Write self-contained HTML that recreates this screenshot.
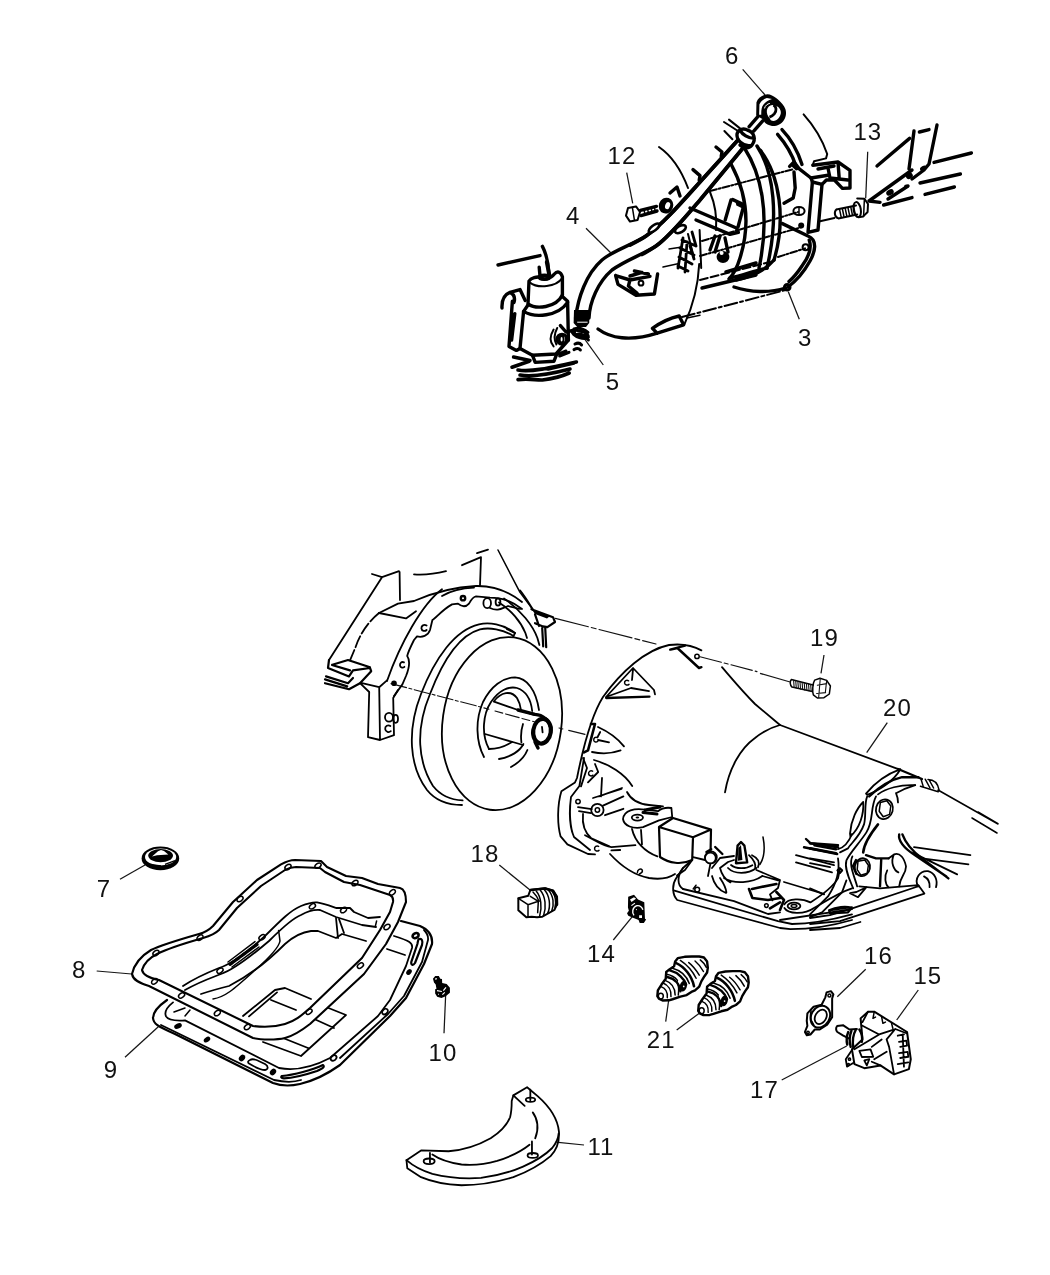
<!DOCTYPE html>
<html><head><meta charset="utf-8"><title>Transmission parts diagram</title>
<style>
html,body{margin:0;padding:0;background:#fff;}
body{width:1050px;height:1275px;overflow:hidden;font-family:"Liberation Sans",sans-serif;}
svg{display:block}
svg *{vector-effect:non-scaling-stroke}
.k{fill:none;stroke:#000;stroke-width:3.4;stroke-linecap:round;stroke-linejoin:round}
.m{fill:none;stroke:#000;stroke-width:2;stroke-linecap:round;stroke-linejoin:round}
.n{fill:none;stroke:#000;stroke-width:1.8;stroke-linecap:round;stroke-linejoin:round}
.t{fill:none;stroke:#000;stroke-width:1.5;stroke-linecap:round;stroke-linejoin:round}
.h{fill:none;stroke:#111;stroke-width:1.1;stroke-linecap:round;stroke-linejoin:round}
.l{fill:none;stroke:#151515;stroke-width:1.25;stroke-linecap:butt}
.f{fill:#000;stroke:none}
.w{fill:#fff}
text{font-family:"Liberation Sans",sans-serif;font-size:24px;fill:#111;}
</style></head><body>
<svg width="1050" height="1275" viewBox="0 0 1050 1275">
<defs><filter id="idf" x="0" y="0" width="1050" height="1275" filterUnits="userSpaceOnUse"><feOffset dx="0" dy="0"/></filter></defs>
<rect width="1050" height="1275" fill="#fff"/>
<!-- 00_labels.svg -->
<g id="labels" filter="url(#idf)" style="font-size:25px;letter-spacing:1.1px">
<text x="725.1" y="63.6">6</text>
<text x="607.5" y="163.6">12</text>
<text x="853.4" y="140.0">13</text>
<text x="566.0" y="223.6">4</text>
<text x="798.0" y="346.3">3</text>
<text x="605.8" y="389.6">5</text>
<text x="810.0" y="645.7">19</text>
<text x="883.1" y="716.0">20</text>
<text x="470.5" y="862.3">18</text>
<text x="96.7" y="896.7">7</text>
<text x="587.1" y="961.9">14</text>
<text x="864.0" y="964.3">16</text>
<text x="913.4" y="983.6">15</text>
<text x="72.0" y="977.6">8</text>
<text x="428.5" y="1060.7">10</text>
<text x="646.8" y="1048.3">21</text>
<text x="103.8" y="1077.6">9</text>
<text x="750.0" y="1097.6">17</text>
<text x="587.4" y="1155.3">11</text>
</g>
<g id="leaders" class="l">
<path d="M742.7 69.3L765 95"/>
<path d="M626.7 172.7L632.7 203.3"/>
<path d="M586 228.3L610.7 252.7"/>
<path d="M603.3 365L579.3 331.7"/>
<path d="M799.3 319.3L788.3 291.7"/>
<path d="M867.7 151.7L865.7 198.3"/>
<path d="M824 655L821 673.3"/>
<path d="M887.3 722.7L866.7 752.7"/>
<path d="M865.7 969.3L837.3 996.7"/>
<path d="M918.3 990L896.7 1020"/>
<path d="M499.3 865L530 890"/>
<path d="M120 879.3L145 865"/>
<path d="M96.7 971L131.7 974"/>
<path d="M125 1057.3L158.3 1026.7"/>
<path d="M613.3 940L632.3 916.7"/>
<path d="M444 1033.3L445.7 994"/>
<path d="M665.7 1021.7L668.7 1000"/>
<path d="M676.7 1030L700 1012.7"/>
<path d="M584 1145L558.3 1142.3"/>
<path d="M781.7 1080L846.7 1046"/>
</g>

<!-- 10_top_left.svg -->
<g transform="translate(490,180) scale(0.2)">
<!-- tube 4 -->
<path class="k" d="M428 690C440 590 480 470 560 400C620 350 700 330 780 280C860 225 960 110 1050 10L1240-200"/>
<path class="k" d="M495 690C498 610 540 510 610 450C680 400 760 375 830 330C900 280 980 180 1050 100L1265-160"/>
<path class="k" style="stroke-width:3.8" d="M700 325C740 305 760 295 780 280C860 225 960 110 1050 10L1240-200M760 372C790 355 810 345 830 330C900 280 980 180 1050 100L1265-160"/>
<path class="f" d="M420 650L498 650L496 715L480 735L436 735L418 715Z"/>
<path d="M436 711L488 711" stroke="#fff" stroke-width="1" fill="none"/>
<!-- lugs on tube -->
<ellipse class="k" style="fill:#fff;stroke-width:2.6" cx="820" cy="240" rx="32" ry="13" transform="rotate(-38 820 240)"/>
<ellipse class="k" style="fill:#fff;stroke-width:2.6" cx="952" cy="246" rx="30" ry="16" transform="rotate(-30 952 246)"/>
<!-- reservoir -->
<path class="k" d="M40 425L250 378"/>
<path class="k" d="M262 332C282 370 292 410 294 470"/>
<path class="k" style="stroke-width:4" d="M284 410L296 472"/>
<ellipse class="k" cx="272" cy="486" rx="26" ry="10"/>
<path class="k" d="M246 436L250 480"/>
<path class="k" d="M250 488C270 500 300 496 322 470C335 455 352 455 362 484L362 575"/>
<path class="k" d="M252 486C235 482 205 488 195 505L190 620C230 648 330 640 362 575"/>
<path class="m" d="M198 512C240 545 330 535 360 492"/>
<path class="k" d="M362 582L388 606L392 800"/>
<path class="k" d="M190 625L168 657C225 692 340 682 388 612"/>
<path class="k" d="M168 657L150 842L212 876L330 870L392 800"/>
<path class="k" d="M212 876L226 912L320 906L334 870"/>
<!-- bracket left -->
<path class="k" d="M60 640C58 600 75 572 100 562L150 548L176 602M100 562C122 572 126 590 120 612M112 606L95 832L132 852L150 842M124 668L108 800"/>
<!-- wavy base lines -->
<path class="k" style="stroke-width:3.6" d="M118 885L200 902M110 936L196 906M140 950C200 962 300 940 432 910M150 975C220 987 320 966 400 945M140 998C200 990 230 1002 262 1000C300 996 350 986 396 965M290 945L420 915"/>
<!-- fitting 5 -->
<circle class="k" cx="360" cy="796" r="24"/>
<ellipse class="m" cx="358" cy="796" rx="10" ry="16"/>
<path class="m" d="M318 748C296 785 300 812 318 832M336 740C318 775 320 800 332 822"/>
<path class="k" d="M352 728L380 760L432 748"/>
<ellipse class="f" cx="452" cy="772" rx="50" ry="24" transform="rotate(18 452 772)"/>
<path d="M430 762L470 772" stroke="#fff" stroke-width="1.2" fill="none"/>
<path class="k" style="stroke-width:3" d="M420 745C445 735 470 745 490 762M432 772C455 765 470 775 492 800M425 820C440 812 450 815 458 825M420 848C435 840 445 842 452 850M345 870L380 855M348 880L395 862"/>
<!-- bolt 12 -->
<path class="m" d="M690 140L730 132L750 160L738 200L700 208L680 178Z"/>
<path class="t" d="M712 138L722 200"/>
<path class="k" d="M752 152L832 132M755 178L835 155"/>
<path class="t" d="M770 150L775 172M788 146L793 168M806 142L811 163M822 138L827 158"/>
<ellipse class="f" cx="880" cy="128" rx="36" ry="40" transform="rotate(20 880 128)"/>
<ellipse cx="888" cy="128" rx="12" ry="18" fill="#fff" transform="rotate(20 888 128)"/>
<!-- "7" clip -->
<path class="k" d="M900 65L935 35L950 80"/>
<!-- small bracket -->
<path class="k" d="M628 478L640 522L730 576L822 570L838 470M628 478L700 500L692 530L736 566M700 500L800 482M722 455L792 470M700 480L760 462"/>
<circle class="m" cx="755" cy="516" r="12"/>
<!-- cover bottom lip -->
<path class="k" d="M540 745C600 790 700 810 836 766L968 724L946 680C900 690 850 715 812 742L836 766"/>
<path class="m" d="M1046 420C1040 540 1010 640 972 722"/>
<path class="t" d="M985 690L1050 676"/>
<!-- wiring hatch -->
<path class="k" style="stroke-width:2.8" d="M960 300L1030 330M950 340L1020 375M945 385L1010 420M940 430L990 455M965 290L940 440M1010 260L1030 330M985 310L975 460M1000 330L1020 395"/>
<path class="t" d="M895 345L960 335M865 435L945 418"/>
</g>

<!-- 11_top_mid.svg -->
<g transform="translate(690,60) scale(0.2)">
<!-- dipstick ring 6 -->
<path class="k" d="M235 370C240 345 270 338 290 352C320 362 332 395 310 425C296 445 266 442 250 425M235 370C232 400 262 432 300 428M250 352C262 372 290 392 322 392"/>
<path class="m" d="M170 310L240 355M195 298L250 342M172 355L212 396"/>
<path class="k" d="M15 548L50 578L46 602M130 435L160 460L156 482"/>
<!-- bell housing arcs -->
<path class="m" d="M-155 435C-90 480 -40 560 -10 640"/>
<path class="k" d="M205 520C270 640 310 800 250 990C235 1040 215 1075 195 1095"/>
<path class="m" d="M100 660C125 720 135 790 130 850"/>
<path class="k" d="M272 440C350 560 405 760 345 1040"/>
<path class="k" d="M335 430C420 560 445 780 385 1040"/>
<path class="k" d="M352 452C450 580 480 800 420 1000"/>
<path class="k" d="M438 372C480 420 510 470 530 530M460 348C510 400 540 460 560 522"/>
<path class="m" d="M568 272C620 330 662 400 686 470L680 492L620 506L614 526"/>
<!-- bracket right -->
<path class="k" d="M498 532L520 510L548 546L605 590L690 576M520 560L526 640L516 690L470 716"/>
<path class="k" d="M614 526L740 510L800 552L800 640L762 642L722 600L682 600L660 622L612 610L605 590"/>
<path class="k" d="M612 610L590 862L640 850L660 622M690 540L700 590M740 512L746 592M640 545L720 530M700 590L790 600"/>
<path class="f" d="M500 525L525 508L550 548L530 552Z"/>
<ellipse class="m" cx="545" cy="755" rx="28" ry="20"/>
<path class="t" d="M545 737L545 773"/>
<circle class="f" cx="556" cy="828" r="15"/>
<!-- lower cover 3 -->
<path class="k" d="M462 818L590 880C640 900 625 960 600 1005C575 1050 530 1105 490 1135"/>
<path class="k" d="M596 900C610 940 590 990 560 1030C540 1060 515 1090 495 1108"/>
<circle class="m" cx="578" cy="936" r="15"/>
<circle cx="486" cy="1136" r="14" fill="none" stroke="#000" stroke-width="3"/>
<path class="k" d="M220 1135C300 1162 400 1166 478 1140"/>
<path class="k" d="M200 1090C260 1080 330 1050 385 1040M230 1100C300 1085 370 1060 420 1000M180 1060L330 1015"/>
<!-- interior arm -->
<path class="k" d="M0 740L232 840L242 862L200 872L30 800"/>
<path class="k" d="M205 700L176 800M214 698L270 724L240 835M232 706L262 720"/>
<path class="f" d="M225 700L275 722L268 745L232 728Z"/>
<ellipse class="f" cx="165" cy="985" rx="32" ry="30"/>
<circle cx="158" cy="965" r="10" fill="#fff"/>
<path class="k" d="M150 880L125 960M175 890L190 960M125 880L100 950"/>
<path class="m" d="M48 850L56 1040"/>
<path class="m" d="M-10 870L20 990"/>
<!-- center lines -->
<path class="m" stroke-dasharray="7 2 2 2" d="M100 655L520 545"/>
<path class="m" stroke-dasharray="7 2 2 2" d="M60 905L540 760"/>
<path class="m" stroke-dasharray="7 2 2 2" d="M50 980L560 835"/>
<path class="m" stroke-dasharray="7 2 2 2" d="M440 985L575 942"/>
<path class="m" stroke-dasharray="8 3" d="M50 1100L400 1010"/>
<path class="k" d="M60 1140L330 1075"/>
<path class="m" stroke-dasharray="13 3 3 3" d="M-40 1285L480 1150"/>
</g>

<!-- 12_top_right.svg -->
<g transform="translate(820,100) scale(0.2)">
<!-- bolt 13 -->
<path class="m" d="M82 547L180 527M92 592L186 572M82 547C68 560 74 586 92 592"/>
<path class="t" d="M98 548L106 586M112 545L120 583M126 542L134 580M140 539L148 577M154 536L162 574M168 533L176 571"/>
<ellipse class="m" cx="186" cy="548" rx="18" ry="38" transform="rotate(-10 186 548)"/>
<path class="m" d="M186 492L222 494L240 520L238 560L216 582L192 586"/>
<path class="t" d="M222 494L218 582"/>
<path class="m" d="M0 606L72 590"/>
<!-- frame lines -->
<path class="k" d="M285 330L448 192M245 505L460 350M245 505L300 512"/>
<path class="k" d="M470 155L445 345M585 125L545 320L520 350L460 395M497 160L545 148"/>
<path class="k" d="M340 495L440 430M318 525L460 488M500 415L702 370M525 472L672 435M570 312L757 265"/>
<ellipse class="f" cx="350" cy="462" rx="20" ry="14" transform="rotate(-30 350 462)"/>
<ellipse class="f" cx="447" cy="380" rx="18" ry="14" transform="rotate(-30 447 380)"/>
<ellipse class="f" cx="517" cy="342" rx="18" ry="12" transform="rotate(-30 517 342)"/>
<ellipse class="f" cx="432" cy="432" rx="12" ry="9"/>
</g>

<!-- 13_ring.svg -->
<!-- dipstick ring 6 -->
<g transform="translate(740,85) scale(0.0571429)">
<path class="f" d="M283 535L288 300C315 225 400 168 480 160C585 165 700 270 770 370C822 450 812 545 770 612C722 690 640 722 560 716C500 706 455 680 430 652L400 600Z"/>
<path fill="#fff" d="M335 520L340 335C370 280 420 240 470 226L560 246C500 262 440 300 405 350C380 390 370 430 372 520Z"/>
<path fill="#fff" d="M470 440C480 390 520 355 565 350L640 366C690 390 720 440 715 490C705 560 650 625 585 630C550 630 525 605 520 580C480 540 465 490 470 440Z"/>
<path d="M585 350C640 380 645 450 600 505C570 540 540 555 515 562" fill="none" stroke="#000" stroke-width="2.8"/>
<path d="M428 410C440 360 480 330 522 322" fill="none" stroke="#fff" stroke-width="1"/>
<path class="k" d="M312 552L160 728M398 628L240 806"/>
</g>

<!-- 20_converter.svg -->
<g transform="translate(395,590) scale(0.2)">
<!-- torque converter -->
<ellipse class="n" cx="535" cy="668" rx="297" ry="435" transform="rotate(8 535 668)" fill="#fff" style="fill:#fff"/>
<path class="n" d="M600 215C540 170 470 160 420 172C300 200 200 340 130 520C60 700 70 880 160 1000C200 1050 260 1075 335 1075"/>
<path class="n" d="M592 230C540 196 470 186 425 197C320 226 240 350 175 520C100 700 115 860 190 980C230 1030 280 1050 338 1052"/>
<path class="n" d="M560 196L600 215L592 232"/>
<!-- hub -->
<path class="n" d="M445 835C405 760 400 650 440 560C480 480 540 437 600 437C660 440 705 500 720 600"/>
<path class="n" d="M470 795C430 720 440 620 480 560C520 500 570 480 610 490C655 505 680 550 686 605"/>
<path class="n" d="M495 556C530 510 580 500 610 540C622 560 628 580 630 600"/>
<path class="n" d="M470 795C510 795 545 785 585 760M520 845C580 835 625 805 642 770M580 885C625 860 650 830 662 800"/>
<path class="n" d="M495 558L615 600L700 626M450 720L640 775M640 670C630 700 628 730 632 762"/>
<path class="k" d="M615 600L700 622C740 625 770 650 780 690"/>
<ellipse cx="735" cy="706" rx="44" ry="62" fill="none" stroke="#000" stroke-width="4.2" transform="rotate(8 735 706)"/>
<path class="n" d="M735 685L738 712"/>
<path class="k" d="M700 760L715 790"/>
<!-- centerline -->
<path class="h" stroke-dasharray="16 2.5 3 2.5" d="M-20 468L470 596"/>
<path class="h" stroke-dasharray="8 3 14 3" d="M500 605L700 660"/>
<path class="h" stroke-dasharray="4 6 18 4" d="M820 690L950 722"/>
<!-- housing top right -->
<path class="n" d="M520 62C580 100 630 160 652 215L660 240M545 42C630 100 690 180 712 240L722 275M625 2C655 40 675 75 690 98"/>
<path class="n" style="stroke-width:2.2" d="M682 96L790 136L800 160L762 186L740 182L700 166M700 122L720 180M736 190L741 282M751 186L756 286"/>
<path class="f" d="M684 96L775 130L760 142L700 120Z"/>
</g>

<!-- 21_bellhousing.svg -->
<g transform="translate(310,540) scale(0.2)">
<path class="n" d="M310 170L360 186L445 156M360 186L95 600M448 160L450 300M520 172C580 176 640 166 680 156M760 126L855 86M835 66L890 48M855 86L850 226"/>
<path class="t" d="M940 50L1050 262L1117 352"/>
<path class="n" d="M345 365L440 318L520 305C600 270 700 236 830 230C920 228 1000 262 1060 310"/>
<path class="n" d="M345 365L480 392L530 356"/>
<path class="n" stroke-dasharray="12 3" d="M345 365C290 410 250 470 228 535L200 602"/>
<path class="n" d="M660 246C560 320 450 520 385 705"/>
<path class="n" d="M820 238C760 240 700 256 660 280"/>
<path class="n" d="M1060 345C1000 300 960 290 900 288L830 282C815 284 805 300 795 318C780 335 760 335 740 318L710 322C660 350 630 390 612 400L600 450C590 480 560 488 535 482L520 500C500 540 490 560 486 580C500 600 496 640 480 680L462 722L420 780"/>
<circle cx="765" cy="291" r="11" fill="none" stroke="#000" stroke-width="2.4"/>
<path class="n" d="M583 428C570 420 556 428 557 442C558 455 575 458 583 450M470 612C458 606 448 616 450 628C452 640 466 640 472 634"/>
<circle class="f" cx="420" cy="716" r="14"/>
<ellipse class="n" cx="886" cy="316" rx="19" ry="25"/>
<ellipse class="n" cx="940" cy="310" rx="12" ry="18"/>
<path class="n" d="M900 340C940 360 960 340 990 330L1050 345"/>
<!-- starter tab -->
<path class="n" style="stroke-width:2.2" d="M95 600L90 640L195 682L215 652L300 640L306 656L250 716L195 746L75 716M110 625L200 652M112 624L190 600L300 636M80 682L190 716L215 690M75 697L186 732"/>
<path class="n" d="M250 716L296 760L290 986L350 1000L420 976L416 790L440 750M346 736L350 1000M260 716L346 736L385 702"/>
<ellipse class="n" cx="395" cy="886" rx="20" ry="22"/>
<ellipse class="n" cx="428" cy="894" rx="12" ry="20"/>
<path class="n" d="M402 930C390 922 374 930 376 946C378 960 395 964 404 956"/>
</g>

<!-- 30_case_left.svg -->
<g transform="translate(545,620) scale(0.2)">
<path class="h" stroke-dasharray="34 3 5 3" d="M52 -8L555 120"/>
<path class="h" stroke-dasharray="22 3 4 3" d="M775 184L1060 258"/>
<!-- front flange outline -->
<path class="n" d="M782 152C740 128 680 118 620 125C500 150 380 260 290 385C230 480 190 640 160 790L150 812L82 856C62 920 60 1020 78 1082L112 1122L215 1170L250 1172"/>
<path class="n" d="M195 690L172 830L130 885C120 960 125 1040 145 1085L225 1150"/>
<path class="n" style="stroke-width:2.4" d="M628 148L662 140L770 240L782 236M626 148L700 128"/>
<circle class="t" cx="760" cy="182" r="11"/>
<!-- rib 1 -->
<path class="n" d="M305 385L440 240L545 350L550 372M305 385L430 340L520 356M440 246L435 300"/>
<path class="n" style="stroke-width:2.4" d="M306 390L522 383"/>
<path class="t" d="M418 304C408 298 396 304 398 316C400 326 412 328 420 322"/>
<!-- rib 2 -->
<path class="n" style="stroke-width:2.6" d="M230 520L250 520L215 652L195 662"/>
<path class="n" d="M265 535C320 560 370 600 395 632M235 660C290 672 340 666 378 652M265 600L320 612M276 560L263 585"/>
<path class="t" d="M262 588C252 582 242 590 244 602C246 612 258 612 264 606"/>
<!-- lower ribs -->
<path class="n" d="M245 700C320 720 400 770 436 830M190 690L210 740L180 832M250 720L266 760L215 812"/>
<path class="t" d="M238 756C228 750 216 758 218 770C220 780 232 782 240 776"/>
<path class="n" d="M285 790L280 882M240 890L382 845M270 882L385 840"/>
<circle class="n" cx="262" cy="950" r="31"/>
<circle class="t" cx="262" cy="950" r="11"/>
<path class="n" d="M290 928L392 882M300 976L392 944M165 936L234 946M170 956L230 966"/>
<circle class="t" cx="165" cy="908" r="11"/>
<path class="n" d="M190 970C185 1020 195 1060 232 1092L322 1132M200 1076C250 1100 290 1130 332 1136L452 1126M332 1152L376 1150"/>
<path class="t" d="M268 1132C258 1126 246 1134 248 1146C250 1156 262 1158 270 1152"/>
<path class="n" d="M410 860C430 900 470 920 520 925L590 932"/>
<!-- lug -->
<path class="n" d="M390 995C395 950 450 940 500 948L565 956C585 940 600 935 632 940L636 985L570 1002L490 1036C440 1046 395 1030 390 995Z"/>
<ellipse class="n" cx="462" cy="988" rx="28" ry="15"/>
<ellipse class="f" cx="462" cy="988" rx="9" ry="5"/>
<path class="n" style="stroke-width:3" d="M490 962L560 970M500 950L575 935"/>
<path class="n" d="M435 1045C450 1110 500 1160 562 1182M480 1050L485 1122"/>
<!-- box -->
<path class="n" style="stroke-width:2.2" d="M570 1035L575 1185C620 1216 680 1226 736 1200L740 1086L570 1035L640 990L830 1048L740 1086M830 1048L828 1150"/>
<path class="n" d="M736 1200L700 1250L660 1278M740 1186L800 1200"/>
<circle class="n" cx="830" cy="1186" r="29" style="fill:#fff"/>
<!-- body lines -->
<path class="n" d="M1175 525C1120 540 1080 565 1050 590C980 640 920 740 900 862"/>
<path class="n" d="M885 236C940 300 990 360 1050 420L1175 525L1770 747"/>
<path class="n" d="M325 1170C380 1230 440 1275 520 1290C570 1298 620 1290 650 1270"/>
<path class="t" d="M462 1262C462 1248 478 1240 486 1250C490 1258 480 1266 472 1270"/>
</g>

<!-- 31_case_mid.svg -->
<g transform="translate(640,740) scale(0.2)">
<path class="n" d="M260 600L215 640L180 692C160 722 160 772 186 800L700 940L752 946C850 946 950 932 1060 900"/>
<path class="n" d="M168 752L690 906L760 920C850 920 950 902 1060 872"/>
<path class="n" d="M215 745L470 806L640 870L700 862"/>
<path class="n" d="M215 640C185 680 185 725 215 745"/>
<circle class="n" cx="352" cy="590" r="27" style="fill:#fff"/>
<path class="n" style="stroke-width:2.4" d="M376 535L412 570M332 560L356 546"/>
<path class="n" d="M352 618L340 680M360 640L400 590L470 580M360 680C370 720 390 750 430 765M400 690C420 720 430 740 432 762"/>
<circle class="t" cx="286" cy="748" r="12"/>
<path class="t" d="M266 745L280 726"/>
<!-- sensor -->
<path class="n" style="stroke-width:2.4" d="M488 528L505 510L522 528L536 612L480 616Z"/>
<path class="f" d="M492 540L505 525L512 600L490 604Z"/>
<path class="n" d="M440 640C470 672 540 672 582 640M455 625C480 646 530 646 562 626M420 690C470 722 560 716 612 680M400 640L440 610L470 600M400 640C410 680 430 700 452 712"/>
<path class="n" d="M560 576C590 590 600 612 590 636M545 576C570 600 580 620 576 640"/>
<path class="t" d="M615 485C626 540 620 590 600 622"/>
<path class="n" d="M582 650L700 700L690 740L650 772L662 802M720 710L920 770M612 680L690 702"/>
<path class="n" style="stroke-width:2.6" d="M545 745L562 790L640 800L700 790M560 745L600 736L682 720M682 760L720 800L700 850M650 842L700 812"/>
<circle class="t" cx="632" cy="828" r="9"/>
<ellipse class="n" cx="770" cy="830" rx="32" ry="17"/>
<ellipse class="t" cx="770" cy="830" rx="14" ry="7"/>
<path class="n" d="M722 822C740 790 810 790 852 812C900 782 960 742 990 692L1000 645"/>
<path class="n" d="M722 840C740 870 820 875 870 840C930 805 990 765 1060 742"/>
<!-- ribs right -->
<path class="n" style="stroke-width:2.4" d="M830 495L852 516L990 526M820 536L986 570M872 526L980 546"/>
<path class="n" d="M780 576L970 626M780 612L960 662"/>
<path class="t" d="M1000 640L1012 652L1000 666L988 652Z"/>
<path class="n" d="M1060 470C1040 520 1012 540 990 546M700 900L1060 846M950 852L1060 836"/>
</g>

<!-- 32_case_rear.svg -->
<g transform="translate(810,700) scale(0.2)">
<!-- ridge to rear -->
<path class="n" style="stroke-width:2.2" d="M440 345L560 395"/>
<path class="t" d="M552 431L641 459M640 450L940 620M810 590L935 665M840 560L940 618"/>
<path class="t" d="M555 395L566 432M576 396L600 440M596 400L618 440M590 398C620 398 640 420 646 452"/>
<!-- rear flange leaves -->
<path class="n" d="M280 468C320 420 380 372 452 346C420 402 350 452 286 474Z"/>
<path class="n" style="stroke-width:2.4" d="M296 482C340 440 400 400 460 386L542 386"/>
<path class="n" d="M340 472C380 442 450 422 526 426"/>
<path class="n" d="M200 668C205 600 235 540 266 510C270 570 250 640 202 682Z"/>
<path class="n" d="M286 482C270 520 282 580 270 622C250 682 200 722 190 742L150 762"/>
<path class="n" d="M330 482C300 540 320 600 282 662C250 712 200 762 182 802C170 842 200 902 216 942"/>
<path class="n" style="stroke-width:2.6" d="M340 622C300 672 270 722 266 762"/>
<path class="n" d="M212 782C192 822 222 882 236 932"/>
<!-- bolts -->
<ellipse class="n" cx="372" cy="546" rx="42" ry="50" transform="rotate(15 372 546)"/>
<path class="t" d="M352 512L384 504L404 530L398 572L366 584L346 556Z"/>
<path class="n" d="M430 466C436 480 440 500 440 512M430 466L470 446L526 426"/>
<ellipse class="n" cx="262" cy="836" rx="38" ry="45" transform="rotate(10 262 836)"/>
<path class="t" d="M240 806L274 800L292 826L286 866L254 876L236 848Z"/>
<path class="n" style="stroke-width:2.4" d="M230 800L215 830L232 870"/>
<!-- body -->
<path class="n" style="stroke-width:2.4" d="M280 776L330 792L392 792M356 800L350 932"/>
<path class="n" d="M392 792L420 772C450 760 472 792 480 832C480 872 450 882 446 932M420 772C400 812 420 852 442 862M386 852C370 882 376 922 392 936"/>
<path class="n" style="stroke-width:2.4" d="M446 672C440 702 470 742 520 772L682 882M462 672C480 722 520 762 560 792L692 892"/>
<path class="n" d="M530 772L736 872M520 736L802 776M560 792L792 822"/>
<path class="n" d="M540 932C520 892 550 852 590 856C626 866 640 902 630 936M570 882C590 892 600 912 598 936"/>
<!-- crossmember -->
<path class="n" d="M246 932L350 942L542 926M0 1090L100 1076L200 1046L546 930M0 1120L150 1106L572 968L542 926M0 1150L150 1140L252 1110"/>
<path class="n" style="stroke-width:2.4" d="M96 1052C130 1036 180 1030 206 1040L190 1062L100 1066Z"/>
<path class="n" d="M200 966L232 960L282 936L240 986Z"/>
<!-- left ribs -->
<path class="n" style="stroke-width:2.6" d="M0 716L140 736M0 742L130 766"/>
<path class="n" d="M0 792L120 812M0 816L100 836"/>
<path class="t" d="M148 840L160 852L148 866L136 852Z"/>
<path class="n" d="M140 792C150 852 130 922 90 982L0 1072M182 902L160 962L60 1062L0 1086M0 942L70 972"/>
</g>
<!-- bolt 19 -->
<g transform="translate(760,650) scale(0.133333)">
<path class="t" d="M235 222L398 262M240 278L392 312M235 222C222 235 225 265 240 278"/>
<path class="h" d="M252 228L256 280M268 232L272 284M284 236L288 288M300 240L304 292M316 244L320 296M332 248L336 300M348 252L352 304M364 256L368 306M380 260L384 310"/>
<path class="t" d="M410 226L450 212L500 228L528 270L520 330L480 358L430 360L400 336C392 310 394 250 410 226Z"/>
<path class="h" d="M452 214L440 356M430 264L500 252M425 326L492 320M500 228L490 320"/>
<path class="l" d="M0 175L226 240"/>
</g>

<!-- 40_pan.svg -->
<g transform="translate(125,850) scale(0.2)">
<!-- PAN 9 (drawn first, gasket overlays) -->
<path class="n" style="stroke-width:2.2" d="M210 750C160 785 140 810 140 840C142 868 160 880 250 920L740 1165C780 1180 830 1180 875 1170C960 1150 1040 1100 1075 1075L1325 830L1405 740L1495 570L1535 470C1540 420 1510 395 1475 380L1380 355"/>
<path class="n" d="M240 762C205 790 196 812 205 832C215 850 240 856 300 852L770 1090C850 1105 930 1090 1025 1040L1265 830L1325 750L1405 580L1435 490C1440 465 1425 455 1345 430"/>
<path class="n" d="M180 875L745 1150C800 1162 850 1160 880 1150M1075 1040L1315 820L1395 730L1485 560L1515 450C1518 425 1505 410 1495 400"/>
<path class="t" d="M245 810L300 790M300 830L325 800"/>
<!-- pan inner rim far side -->
<path class="n" d="M290 680C350 640 420 610 470 590C520 575 600 520 700 430C780 350 830 300 880 280C910 268 940 260 960 262C1000 268 1040 285 1055 290L1125 290L1145 310L1215 340L1275 335"/>
<path class="n" d="M300 700C380 655 430 640 480 620C540 600 620 540 720 455C790 385 840 340 880 325C915 305 950 298 975 300L1055 335L1185 375L1255 385"/>
<path class="n" d="M380 720C440 700 480 690 520 680C580 650 680 590 800 470C850 425 890 410 930 405L965 405L1055 440L1085 420L1205 455"/>
<path class="t" d="M440 745C500 735 540 700 640 610C720 540 770 490 775 455L768 402"/>
<path class="n" d="M1055 340L1065 440M1070 345L1095 415"/>
<path class="t" d="M1258 355L1252 380"/>
<!-- floor -->
<path class="n" d="M590 830L750 700L800 690L930 745M620 832L760 712M730 750L855 800M690 960L880 1030L1045 880L1105 825L1005 785M790 940L915 990M935 840L1045 890M1310 495L1400 525"/>
<!-- pan holes -->
<ellipse class="f" cx="265" cy="880" rx="20" ry="13" transform="rotate(-25 265 880)"/>
<ellipse class="f" cx="410" cy="948" rx="18" ry="12" transform="rotate(-35 410 948)"/>
<ellipse class="f" cx="585" cy="1040" rx="18" ry="14" transform="rotate(-50 585 1040)"/>
<ellipse class="f" cx="740" cy="1110" rx="18" ry="14" transform="rotate(-50 740 1110)"/>
<path class="n" d="M625 1050C640 1040 660 1050 700 1070C720 1082 715 1098 700 1100C680 1100 640 1080 620 1068C612 1060 615 1054 625 1050Z"/>
<path class="n" style="stroke-width:2.2" d="M785 1130C840 1125 940 1100 990 1075C1000 1085 990 1092 960 1105C900 1125 840 1140 795 1142C780 1140 778 1134 785 1130Z"/>
<ellipse class="n" cx="1043" cy="1040" rx="16" ry="12" transform="rotate(-40 1043 1040)"/>
<ellipse class="n" cx="1300" cy="808" rx="16" ry="12" transform="rotate(-40 1300 808)"/>
<ellipse class="f" cx="1420" cy="610" rx="16" ry="12" transform="rotate(-50 1420 610)"/>
<ellipse class="n" style="stroke-width:2.6" cx="1453" cy="428" rx="16" ry="12" transform="rotate(-30 1453 428)"/>
<path class="n" style="stroke-width:2.2" d="M1470 445C1485 440 1490 455 1485 475L1450 565C1440 580 1428 575 1432 558L1462 470C1465 455 1465 448 1470 445Z"/>
<!-- GASKET 8 -->
<path class="n" style="stroke-width:2.1;fill:#fff;fill-rule:evenodd" d="M35 620C45 575 80 530 130 500C180 475 300 440 370 420C400 412 420 400 440 380L540 260L660 150L780 72C810 55 830 50 850 50L980 55L1010 85L1105 130L1185 140L1265 170L1375 190C1395 195 1405 220 1405 260L1365 360L1305 470L1195 620L925 870C880 905 840 930 800 940C760 950 680 950 640 940L120 680C70 665 40 650 35 620Z
M85 600C95 570 120 540 160 520C210 495 320 460 390 440C430 428 450 420 470 400L560 290L680 180L800 100C820 90 840 85 855 85L975 90L1000 110L1095 160L1175 175L1265 205L1325 225C1338 232 1342 245 1340 260L1325 310L1275 400L1185 540L925 790C880 830 850 855 800 870C760 882 700 888 640 880L170 650C120 640 90 625 85 600Z"/>
<ellipse class="t" cx="155" cy="515" rx="17" ry="11" transform="rotate(-35 155 515)"/>
<ellipse class="t" cx="375" cy="438" rx="17" ry="11" transform="rotate(-35 375 438)"/>
<ellipse class="t" cx="575" cy="245" rx="17" ry="11" transform="rotate(-35 575 245)"/>
<ellipse class="t" cx="815" cy="85" rx="17" ry="11" transform="rotate(-35 815 85)"/>
<ellipse class="t" cx="965" cy="78" rx="17" ry="11" transform="rotate(-35 965 78)"/>
<ellipse class="t" cx="1150" cy="165" rx="17" ry="11" transform="rotate(-35 1150 165)"/>
<ellipse class="t" cx="1337" cy="212" rx="17" ry="11" transform="rotate(-35 1337 212)"/>
<ellipse class="t" cx="1310" cy="385" rx="17" ry="11" transform="rotate(-35 1310 385)"/>
<ellipse class="t" cx="1177" cy="578" rx="17" ry="11" transform="rotate(-35 1177 578)"/>
<ellipse class="t" cx="920" cy="808" rx="17" ry="11" transform="rotate(-35 920 808)"/>
<ellipse class="t" cx="612" cy="885" rx="17" ry="11" transform="rotate(-35 612 885)"/>
<ellipse class="t" cx="462" cy="815" rx="17" ry="11" transform="rotate(-35 462 815)"/>
<ellipse class="t" cx="283" cy="727" rx="17" ry="11" transform="rotate(-35 283 727)"/>
<ellipse class="t" cx="148" cy="657" rx="17" ry="11" transform="rotate(-35 148 657)"/>
<ellipse class="t" cx="475" cy="603" rx="17" ry="11" transform="rotate(-35 475 603)"/>
<ellipse class="t" cx="685" cy="437" rx="17" ry="11" transform="rotate(-35 685 437)"/>
<ellipse class="t" cx="937" cy="282" rx="17" ry="11" transform="rotate(-35 937 282)"/>
<ellipse class="t" cx="1093" cy="300" rx="17" ry="11" transform="rotate(-35 1093 300)"/>
<path d="M525 572L660 472" stroke="#000" stroke-width="3.2" stroke-linecap="round" fill="none" stroke-dasharray="3 1"/>
<path class="t" d="M515 560L650 458M535 585L670 485"/>
</g>

<!-- 50_small.svg -->
<!-- seal 7 -->
<g>
<ellipse class="f" cx="160.4" cy="858.4" rx="18.8" ry="11.8"/>
<ellipse cx="160.6" cy="857" rx="15.6" ry="8.4" fill="#fff"/>
<ellipse class="f" cx="160.6" cy="855.6" rx="12.4" ry="6.6"/>
<path d="M152 856.6L158 851.2L161 850L164 851L168.3 854.6L157 855.2Z" fill="#fff"/>
<path d="M151 864.6L161 866M165 864.4L175 860.6" stroke="#000" stroke-width="1.4" fill="none"/>
</g>
<!-- plug 18 -->
<g transform="translate(505,870) scale(0.0666667)">
<path class="m" style="fill:#fff" d="M200 425L200 605L320 710L400 702L480 710L560 700L740 600L780 520L775 400L720 310L600 275L380 300L350 385Z"/>
<path class="t" d="M200 425L345 520L345 700M345 520L500 470L380 395M500 470L490 640"/>
<path class="t" d="M470 320C540 400 560 560 520 690M530 305C610 400 620 560 580 680M590 295C670 380 690 540 640 650M650 300C730 390 740 520 700 620M710 325C760 400 770 480 750 560M420 330C470 380 500 440 510 470"/>
<path class="m" style="stroke-width:2.6" d="M380 300L600 278L720 312L776 400L780 520"/>
</g>
<!-- part 14 -->
<g transform="translate(610,880) scale(0.0571429)">
<path class="f" d="M318 295L420 260L490 340L600 390L612 680L632 690L592 752L520 752L500 700L380 650L320 626L298 580L330 540L314 480Z"/>
<path fill="#fff" d="M350 342L420 300L456 330L376 386ZM368 440L430 400L442 412L382 456ZM510 615L560 615L560 665L510 665Z"/>
<path d="M420 620C380 570 390 480 470 450C530 440 560 480 575 520" fill="none" stroke="#fff" stroke-width="1.4"/>
<circle cx="462" cy="518" r="10" fill="#fff"/>
</g>
<!-- bolt 10 -->
<g transform="translate(420,965) scale(0.047619)">
<path class="f" d="M272 290L320 232L396 232L426 290L462 296L466 380L560 400L628 480L628 582L540 658L450 692L360 666L318 600L318 510L346 500L330 410L294 370Z"/>
<ellipse cx="336" cy="290" rx="20" ry="16" fill="#fff" transform="rotate(-40 336 290)"/>
<path d="M356 540L460 556M490 540L546 470M470 622L520 576M380 616L396 614" fill="none" stroke="#fff" stroke-width="1.2"/>
</g>
<!-- sensors 21 -->

<g transform="translate(650,950) scale(0.104762)"><g>
<path class="m" style="fill:#fff;stroke-width:2.4" d="M70 440L75 385L110 330L150 275L155 210L185 185L230 155L240 110L265 78L330 65L400 62L470 62L515 72L545 110L552 170L545 215L520 250L490 300L470 350L430 385L395 400L350 430L290 445L215 470L180 480L120 482L85 465Z"/>
<path class="n" style="stroke-width:2.6" d="M250 125C330 160 400 250 420 345"/>
<path class="t" d="M290 100C350 140 400 190 440 270M370 120C410 150 440 190 470 240M430 105C460 130 490 165 510 205M480 95C505 115 525 140 538 165"/>
<path class="n" style="stroke-width:2.4" d="M190 195C270 215 330 280 345 330M165 258C240 275 285 330 290 395"/>
<path class="t" d="M215 175C290 195 350 250 375 320M160 232C200 240 240 262 262 290"/>
<ellipse class="f" cx="318" cy="345" rx="34" ry="52" transform="rotate(15 318 345)"/>
<circle cx="322" cy="348" r="8" fill="#fff"/>
<path class="t" d="M125 315C175 335 205 385 200 445M105 350C145 365 170 405 165 455M145 290C200 310 240 360 240 430M258 300C275 340 278 380 270 430"/>
<ellipse class="t" cx="103" cy="440" rx="24" ry="28"/>
</g><g transform="translate(390,140)">
<path class="m" style="fill:#fff;stroke-width:2.4" d="M70 440L75 385L110 330L150 275L155 210L185 185L230 155L240 110L265 78L330 65L400 62L470 62L515 72L545 110L552 170L545 215L520 250L490 300L470 350L430 385L395 400L350 430L290 445L215 470L180 480L120 482L85 465Z"/>
<path class="n" style="stroke-width:2.6" d="M250 125C330 160 400 250 420 345"/>
<path class="t" d="M290 100C350 140 400 190 440 270M370 120C410 150 440 190 470 240M430 105C460 130 490 165 510 205M480 95C505 115 525 140 538 165"/>
<path class="n" style="stroke-width:2.4" d="M190 195C270 215 330 280 345 330M165 258C240 275 285 330 290 395"/>
<path class="t" d="M215 175C290 195 350 250 375 320M160 232C200 240 240 262 262 290"/>
<ellipse class="f" cx="318" cy="345" rx="34" ry="52" transform="rotate(15 318 345)"/>
<circle cx="322" cy="348" r="8" fill="#fff"/>
<path class="t" d="M125 315C175 335 205 385 200 445M105 350C145 365 170 405 165 455M145 290C200 310 240 360 240 430M258 300C275 340 278 380 270 430"/>
<ellipse class="t" cx="103" cy="440" rx="24" ry="28"/>
</g></g>
<!-- 16 / 17 / 15 -->
<g transform="translate(795,980) scale(0.12381)">
<path class="m" d="M245 140L255 100L290 90L310 116L300 150L300 300L260 360L200 400L160 400L125 440L95 446L80 420L100 370L95 330L100 270L150 216L215 200Z"/>
<circle class="t" cx="278" cy="126" r="12"/>
<circle class="t" cx="105" cy="424" r="10"/>
<ellipse class="m" cx="205" cy="296" rx="74" ry="92" transform="rotate(30 205 296)"/>
<ellipse class="n" cx="208" cy="298" rx="44" ry="62" transform="rotate(30 208 298)"/>
<path class="t" d="M130 250C120 290 125 330 150 360"/>
<!-- 17 -->
<path class="m" d="M390 366L340 372C328 385 330 410 342 420L390 450L430 470M390 366L440 400L500 396"/>
<path class="m" style="stroke-width:2.4" d="M430 420C418 450 414 490 422 522M456 410C440 450 438 500 450 540M492 400C470 440 462 500 472 550M520 400C540 430 545 470 540 500"/>
<!-- 15 -->
<path class="m" d="M530 310L590 256L640 256L905 420L935 640L920 720L800 762L690 690L560 712L480 680L460 560L545 480Z"/>
<path class="n" d="M545 370L680 440L810 396L900 430M590 256L545 340M680 440L480 560M810 396L740 480L760 540L800 762M620 540L700 480M640 640L740 580"/>
<path class="t" d="M640 256L630 310L650 300M700 300L710 350L730 340M780 350L790 390"/>
<path class="n" d="M830 450L880 440M840 500L900 490L905 530L850 540M840 590L910 580L915 620L850 630M830 680L915 665M870 440L880 700"/>
<path class="n" d="M456 572L410 640L420 700L470 670M520 572L610 560L632 620L540 622ZM560 650L600 640L580 690ZM620 660L690 690"/>
<circle class="t" cx="440" cy="640" r="9"/><circle class="t" cx="432" cy="682" r="8"/>
</g>
<!-- shield 11 -->
<g transform="translate(400,1080) scale(0.161905)">
<path class="n" d="M700 95L690 130C690 180 685 210 680 230C660 280 620 320 560 360C480 405 380 435 300 440L130 435L40 495L45 545L130 600C200 630 260 645 380 650C500 650 620 625 700 600C780 570 860 530 930 470C965 435 985 380 982 320C975 250 930 170 850 100L785 45Z"/>
<path class="n" d="M40 495C80 530 120 555 200 580C300 605 400 612 500 605C600 592 680 570 760 535C840 500 900 460 940 420C965 390 978 360 980 330"/>
<path class="n" d="M200 460C250 495 300 510 380 522C450 528 530 520 600 500C680 475 750 440 800 400"/>
<path class="n" d="M700 95L770 160M820 200C850 240 860 300 835 360"/>
<path class="n" d="M185 450L185 510M805 60L805 125M815 380L815 460"/>
<ellipse class="n" cx="180" cy="502" rx="34" ry="17"/>
<ellipse class="n" cx="806" cy="122" rx="29" ry="13"/>
<ellipse class="n" cx="820" cy="466" rx="32" ry="15"/>
</g>

</svg>
</body></html>
